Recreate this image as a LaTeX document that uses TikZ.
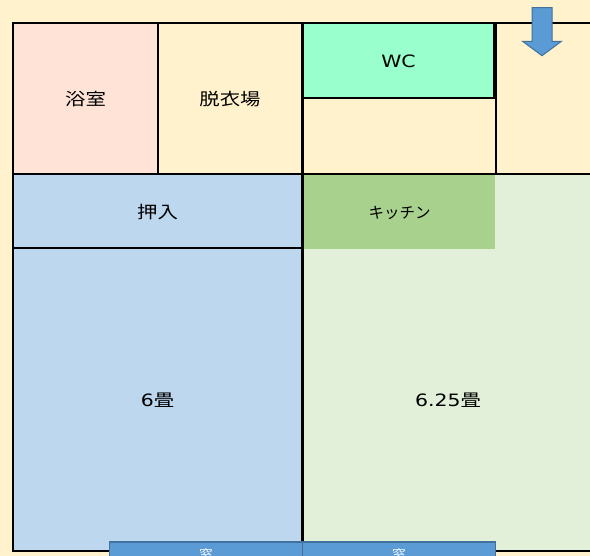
\documentclass[tikz,border=0pt]{standalone}
\usepackage{fontspec}
\setmainfont[FakeStretch=1.2]{DejaVu Sans}
\newfontfamily\jpfont[FakeStretch=1.2]{Noto Sans CJK JP}
\newfontfamily\jpplain{Noto Sans CJK JP}
\usetikzlibrary{shapes.arrows}
\definecolor{wallpaper}{HTML}{FFF2CC}
\definecolor{bathpink}{HTML}{FEE3D6}
\definecolor{wcgreen}{HTML}{99FFCC}
\definecolor{roomblue}{HTML}{BDD7EE}
\definecolor{kitchengreen}{HTML}{A9D18E}
\definecolor{roomgreen}{HTML}{E2F0D9}
\definecolor{windowblue}{HTML}{5B9BD5}
\definecolor{windowedge}{HTML}{41719C}
\tikzset{room/.style={draw=black,line width=1.8pt,inner sep=0pt,text height=17pt,text depth=2pt,font=\fontsize{17}{19}\selectfont\jpfont},}
\tikzset{win/.style={draw=windowedge,line width=1.5pt,fill=windowblue,text=white,inner sep=0pt,minimum width=193pt,minimum height=24pt,font=\fontsize{11.5}{14}\selectfont\jpfont},}

\begin{document}
\begin{tikzpicture}[x=1pt,y=-1pt]
	\path[use as bounding box] (0,0) rectangle (590,556);
	\clip (0,0) rectangle (590,556);
	\fill[wallpaper] (0,0) rectangle (590,556);

	\node[room,fill=bathpink,minimum width=145pt,minimum height=151pt] (bath) at (85.5,98.5) {浴室};
	\node[room,fill=wallpaper,minimum width=144pt,minimum height=151pt] (dress) at (230,98.5) {脱衣場};
	\node[room,fill=wallpaper,minimum width=193pt,minimum height=76pt] (hall) at (399.5,136) {};
	\node[room,fill=wcgreen,minimum width=191pt,minimum height=75pt] (wc) at (398.5,60.5) {\rmfamily WC};
	\node[room,fill=wallpaper,minimum width=100pt,minimum height=151pt] (entry) at (546,98.5) {};
	\node[room,fill=roomblue,minimum width=289pt,minimum height=74pt] (closet) at (157.5,211) {押入};
	\node[room,fill=roomblue,minimum width=289pt,minimum height=303pt] (sixmat) at (157.5,399.5) {\rmfamily 6{\jpfont 畳}};
	\node[room,fill=roomgreen,minimum width=290pt,minimum height=377pt] (sixquarter) at (448,362.5) {};
	\node[font=\fontsize{17}{19}\selectfont,inner sep=0pt] (sixlabel) at (448,400) {6.25{\jpfont 畳}};
	\node[fill=kitchengreen,inner sep=0pt,minimum width=191pt,minimum height=74pt,text height=16pt,text depth=2pt,font=\fontsize{15.5}{18}\selectfont\jpplain] (kitchen) at (399.5,212) {キッチン};

	\node[win] (winleft) at (206,554) {窓};
	\node[win] (winright) at (399,554) {窓};

	\node[single arrow,draw=windowedge,line width=1pt,fill=windowblue,rotate=-90,
		text height=19pt,minimum height=48pt,inner sep=0pt,single arrow head extend=9.5pt,
		single arrow tip angle=107] (door) at (542,28) {};
\end{tikzpicture}
\end{document}
